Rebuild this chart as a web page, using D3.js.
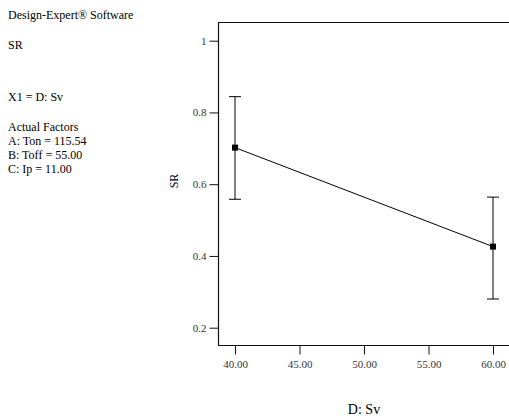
<!DOCTYPE html>
<html>
<head>
<meta charset="utf-8">
<script src="https://cdn.jsdelivr.net/npm/d3@7"></script>
<style>
  html, body { margin: 0; padding: 0; background: #fff; }
  svg { display: block; }
</style>
</head>
<body>
<svg id="chart" width="509" height="419"></svg>
<script>
const fontFamily = "'Liberation Serif', 'Times New Roman', serif";
const width = 509, height = 419;

// Data
const factorLevels = [40, 60];
const srMeans = [0.702, 0.426];
const srLower = [0.558, 0.280];
const srUpper = [0.844, 0.564];
const xTicks = [40, 45, 50, 55, 60];
const yTicks = [0.2, 0.4, 0.6, 0.8, 1];

// Side notes
const infoLines = [
  { text: "Design-Expert® Software", y: 19 },
  { text: "SR", y: 49 },
  { text: "X1 = D: Sv", y: 101 },
  { text: "Actual Factors", y: 131 },
  { text: "A: Ton = 115.54", y: 145 },
  { text: "B: Toff = 55.00", y: 159 },
  { text: "C: Ip = 11.00", y: 173 }
];

const svg = d3.select("#chart");

// plot frame
const frameL = 218, frameR = 510, frameT = 22, frameB = 345;

const x = d3.scaleLinear().domain([40, 60]).range([235, 493]);
const y = d3.scaleLinear().domain([0.2, 1]).range([327.7, 40.7]);

// left text block
svg.append("g")
  .selectAll("text")
  .data(infoLines)
  .enter()
  .append("text")
  .attr("x", 8)
  .attr("y", d => d.y)
  .attr("font-family", fontFamily)
  .attr("font-size", "12px")
  .attr("fill", "#000")
  .text(d => d.text);

// frame lines (no right edge visible)
svg.append("path")
  .attr("d", `M${frameR},${frameT + 0.5}H${frameL + 0.5}V${frameB + 0.5}H${frameR}`)
  .attr("fill", "none")
  .attr("stroke", "#111")
  .attr("stroke-width", 1.2);

// y axis
const yAxis = svg.append("g")
  .attr("transform", `translate(${frameL + 0.5},0)`)
  .call(d3.axisLeft(y).tickValues(yTicks).tickSize(9).tickPadding(3)
    .tickFormat(d => d === 1 ? "1" : d3.format(".1f")(d)));
yAxis.select(".domain").remove();
yAxis.selectAll("line").attr("stroke", "#111");
yAxis.selectAll("text")
  .attr("font-family", fontFamily)
  .attr("font-size", "11px")
  .attr("fill", "#333");

// x axis
const xAxis = svg.append("g")
  .attr("transform", `translate(0,${frameB + 0.5})`)
  .call(d3.axisBottom(x).tickValues(xTicks).tickSize(9).tickPadding(6)
    .tickFormat(d3.format(".2f")));
xAxis.select(".domain").remove();
xAxis.selectAll("line").attr("stroke", "#111");
xAxis.selectAll("text")
  .attr("font-family", fontFamily)
  .attr("font-size", "11px")
  .attr("fill", "#333");

// axis titles
svg.append("text")
  .attr("x", 364)
  .attr("y", 414)
  .attr("text-anchor", "middle")
  .attr("font-family", fontFamily)
  .attr("font-size", "14px")
  .attr("fill", "#000")
  .text("D: Sv");

svg.append("text")
  .attr("transform", "translate(178,181) rotate(-90)")
  .attr("text-anchor", "middle")
  .attr("font-family", fontFamily)
  .attr("font-size", "12px")
  .attr("fill", "#000")
  .text("SR");

const pts = factorLevels.map((v, i) => ({
  x: v, m: srMeans[i], lo: srLower[i], hi: srUpper[i]
}));

// effect line
svg.append("path")
  .datum(pts)
  .attr("d", d3.line().x(d => x(d.x)).y(d => y(d.m)))
  .attr("fill", "none")
  .attr("stroke", "#000")
  .attr("stroke-width", 1);

// error bars
const bars = svg.append("g").selectAll("g")
  .data(pts)
  .enter()
  .append("g");

bars.append("line")
  .attr("x1", d => x(d.x)).attr("x2", d => x(d.x))
  .attr("y1", d => y(d.lo)).attr("y2", d => y(d.hi))
  .attr("stroke", "#000");

bars.append("line")
  .attr("x1", d => x(d.x) - 6).attr("x2", d => x(d.x) + 6)
  .attr("y1", d => y(d.hi)).attr("y2", d => y(d.hi))
  .attr("stroke", "#000");

bars.append("line")
  .attr("x1", d => x(d.x) - 6).attr("x2", d => x(d.x) + 6)
  .attr("y1", d => y(d.lo)).attr("y2", d => y(d.lo))
  .attr("stroke", "#000");

// square markers
bars.append("rect")
  .attr("x", d => x(d.x) - 3)
  .attr("y", d => y(d.m) - 3)
  .attr("width", 6)
  .attr("height", 6)
  .attr("fill", "#000");
</script>
</body>
</html>
